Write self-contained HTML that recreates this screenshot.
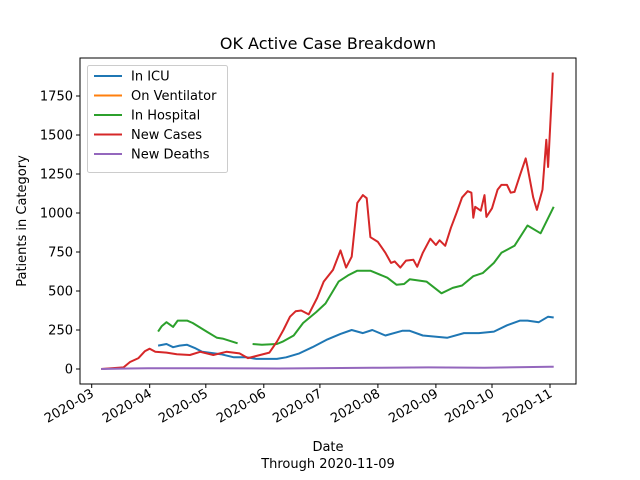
<!DOCTYPE html>
<html><head><meta charset="utf-8"><style>
body{margin:0;background:#fff}
svg{display:block;font-family:"DejaVu Sans","Liberation Sans",sans-serif}
</style></head><body>
<svg id="chart" width="640" height="480" viewBox="0 0 640 480"></svg>
<script>
const monthLabels=["2020-03","2020-04","2020-05","2020-06","2020-07","2020-08","2020-09","2020-10","2020-11"];
const monthDays=[0,31,61,92,122,153,184,214,245];
const yTicks=[0,250,500,750,1000,1250,1500,1750];
const seriesNames=["In ICU","On Ventilator","In Hospital","New Cases","New Deaths"];
const seriesColors=["#1f77b4","#ff7f0e","#2ca02c","#d62728","#9467bd"];
const icuDays=[35.5,40,43.5,47,51,55,59,69,76,83,88,99,104,111,118,126,133,139,145,150,157,166,170,177,190,199,207,215,222,229,233,239,244,247];
const icuVals=[150,160,140,150,155,135,110,95,75,75,65,65,75,100,140,190,225,250,230,250,215,245,245,215,200,230,230,240,280,310,310,300,335,330];
const ventDays=[];
const ventVals=[];
const hospDays=[35.5,37.5,40,43.5,46,51,54,61.5,67,70,74,78,80,86,91,99,102,108,113,120,125,132,137,142,149,158,163,167,170,179,187,193,198,204,209,215,219,226,233,240,247];
const hospVals=[240,275,300,270,310,310,295,240,200,195,180,165,null,160,155,160,175,215,295,365,420,560,600,630,630,585,540,545,575,560,485,520,535,595,615,680,745,790,920,870,1040];
const caseDays=[5,17,20.5,25,28.5,31,34,40,45.5,52.5,58,65,72,79,83.5,90,95,99,102.5,106,109,112,116,120.5,124,129,133,136,139,142,145,147,149,153,157,160,162,165,168,172,174,177,181,184,186,189,192,195,198,201,203,204,205,208,210,211,214,217,219,222,224,226,229,232,233,236,238,241,243,244,246,246.5];
const caseVals=[0,10,45,70,115,130,110,105,95,90,110,90,110,100,70,90,105,175,250,335,370,375,350,455,560,635,760,650,720,1065,1115,1095,845,815,745,680,690,650,695,700,655,745,835,795,825,790,905,1000,1100,1140,1130,970,1040,1015,1115,975,1030,1150,1180,1180,1130,1135,1245,1350,1295,1100,1020,1150,1470,1295,1770,1900];
const deathDays=[5,30,60,100,150,180,210,245,247];
const deathVals=[0,5,5,3,8,10,8,15,14];

const svg=document.getElementById('chart');
const NS='http://www.w3.org/2000/svg';
const L=80,R=576,T=58,B=384;
const xs=d=>91.7+d*1.8706;
const ys=v=>369-v*0.156;
function el(tag,attrs,parent){const e=document.createElementNS(NS,tag);for(const k in attrs)e.setAttribute(k,attrs[k]);(parent||svg).appendChild(e);return e;}

let t=el('text',{x:328,y:49,'text-anchor':'middle','font-size':16,fill:'#000'});t.textContent='OK Active Case Breakdown';



const plot=el('g',{});



function drawSeries(days,vals,color,name){
  let segs=[],cur=[];
  for(let i=0;i<days.length;i++){
    if(vals[i]===null){if(cur.length)segs.push(cur);cur=[];continue;}
    cur.push(xs(days[i]).toFixed(1)+','+ys(vals[i]).toFixed(1));
  }
  if(cur.length)segs.push(cur);
  segs.forEach(s=>{
    const p=el('polyline',{points:s.join(' '),fill:'none',stroke:color,'stroke-width':2,'stroke-linejoin':'round'},plot);
    
    
  });
}
drawSeries(icuDays,icuVals,seriesColors[0],'in-icu');
drawSeries(ventDays,ventVals,seriesColors[1],'on-ventilator');
drawSeries(hospDays,hospVals,seriesColors[2],'in-hospital');
drawSeries(caseDays,caseVals,seriesColors[3],'new-cases');
drawSeries(deathDays,deathVals,seriesColors[4],'new-deaths');

const frame=el('rect',{x:L,y:T,width:R-L,height:B-T,fill:'none',stroke:'#000','stroke-width':1});



monthDays.forEach((d,i)=>{
  const x=xs(d);
  const tk=el('line',{x1:x,y1:B,x2:x,y2:B+4,stroke:'#000'});
  
  
  const lb=el('text',{x:x+3,y:B+12,'text-anchor':'end','font-size':13,transform:`rotate(-30 ${x+3} ${B+12})`});
  lb.textContent=monthLabels[i];
  
  
});
yTicks.forEach(v=>{
  const y=ys(v);
  const tk=el('line',{x1:L-4,y1:y,x2:L,y2:y,stroke:'#000'});
  
  
  const lb=el('text',{x:L-7,y:y+4.5,'text-anchor':'end','font-size':13});
  lb.textContent=v;
  
  
});
let xt=el('text',{x:328,y:451,'text-anchor':'middle','font-size':13});xt.textContent='Date';


let xt2=el('text',{x:328,y:468,'text-anchor':'middle','font-size':13});xt2.textContent='Through 2020-11-09';


let yt=el('text',{x:26,y:221,'text-anchor':'middle','font-size':13,transform:'rotate(-90 26 221)'});yt.textContent='Patients in Category';



const lg=el('g',{});


el('rect',{x:87.5,y:65.5,width:140,height:107,rx:2,fill:'#fff','fill-opacity':0.8,stroke:'#ccc'},lg);
seriesNames.forEach((n,i)=>{
  const y=76+i*19.5;
  const ln=el('line',{x1:94,y1:y,x2:122,y2:y,stroke:seriesColors[i],'stroke-width':2},lg);
  
  
  const tx=el('text',{x:131,y:y+4.5,'font-size':13},lg);
  tx.textContent=n;
  
  
});
</script>
</body></html>
